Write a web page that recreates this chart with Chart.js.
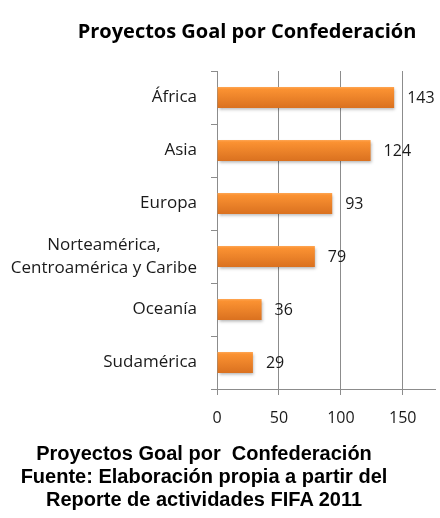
<!DOCTYPE html>
<html>
<head>
<meta charset="utf-8">
<script src="https://cdn.jsdelivr.net/npm/chart.js@4"></script>
<style>
    body { margin: 0; background: #fff; }
    #wrap { position: relative; width: 440px; height: 518px; }
    #chart { position: absolute; left: 0; top: 0; }
    .title {
        position: absolute; left: 0; top: 18px; width: 494px; text-align: center;
        font: bold 20px "Open Sans", sans-serif; line-height: 26px; color: #000;
    }
    .caption {
        position: absolute; left: 0; top: 442px; width: 408px; text-align: center;
        font: bold 20px "Liberation Sans", Arial, sans-serif; line-height: 23px; color: #000;
    }
</style>
</head>
<body>
<div id="wrap">
    <canvas id="chart" width="440" height="518"></canvas>
    <div class="title">Proyectos Goal por Confederación</div>
    <div class="caption">Proyectos Goal por&nbsp; Confederación<br>Fuente: Elaboración propia a partir del<br>Reporte de actividades FIFA 2011</div>
</div>
<script>
// Data
const confederations = ["África", "Asia", "Europa", ["Norteamérica,", "Centroamérica y Caribe"], "Oceanía", "Sudamérica"];
const projects = [143, 124, 93, 79, 36, 29];
const xTicks = [0, 50, 100, 150];

const labelFont = "17px 'Open Sans', sans-serif";

// Category labels: single line right aligned, wrapped label centered
const categoryLabels = {
    id: "categoryLabels",
    afterDraw(chart) {
        const c = chart.ctx;
        const y = chart.scales.y;
        const right = chart.chartArea.left - 20;
        c.save();
        c.font = labelFont;
        c.fillStyle = "#1a1a1a";
        c.textBaseline = "middle";
        confederations.forEach((lab, i) => {
            const py = y.getPixelForValue(i);
            if (Array.isArray(lab)) {
                const w = Math.max(...lab.map(l => c.measureText(l).width));
                c.textAlign = "center";
                lab.forEach((l, j) => c.fillText(l, right - w / 2, py + (j - (lab.length - 1) / 2) * 23));
            } else {
                c.textAlign = "right";
                c.fillText(lab, right, py);
            }
        });
        c.restore();
    }
};

// Value labels at the end of each bar
const valueLabels = {
    id: "valueLabels",
    afterDatasetsDraw(chart) {
        const c = chart.ctx;
        c.save();
        c.font = "16px 'Open Sans', sans-serif";
        c.fillStyle = "#1a1a1a";
        c.textAlign = "left";
        c.textBaseline = "middle";
        chart.getDatasetMeta(0).data.forEach((bar, i) => {
            c.fillText(projects[i], bar.x + 13, bar.y + 1);
        });
        c.restore();
    }
};

// Soft drop shadow under the bars
const barShadow = {
    id: "barShadow",
    beforeDatasetsDraw(chart) {
        const c = chart.ctx;
        c.save();
        c.shadowColor = "rgba(0,0,0,0.3)";
        c.shadowOffsetX = 1;
        c.shadowOffsetY = 2;
        c.shadowBlur = 3;
    },
    afterDatasetsDraw(chart) {
        chart.ctx.restore();
    }
};

new Chart(document.getElementById("chart"), {
    type: "bar",
    data: {
        labels: confederations,
        datasets: [{
            data: projects,
            backgroundColor: function (context) {
                const chart = context.chart;
                const yScale = chart.scales.y;
                if (!chart.chartArea || !yScale) return "#f0892c";
                const py = yScale.getPixelForValue(context.dataIndex);
                const g = chart.ctx.createLinearGradient(0, py - 11, 0, py + 11);
                g.addColorStop(0, "#ffab5c");
                g.addColorStop(0.12, "#fb9232");
                g.addColorStop(1, "#d9701f");
                return g;
            },
            borderWidth: 0,
            barPercentage: 0.4,
            categoryPercentage: 1
        }]
    },
    plugins: [barShadow, valueLabels, categoryLabels],
    options: {
        responsive: false,
        animation: false,
        indexAxis: "y",
        layout: { padding: { top: 71, right: 5, bottom: 89, left: 0 } },
        plugins: {
            legend: { display: false },
            tooltip: { enabled: false }
        },
        scales: {
            x: {
                min: 0,
                max: 176,
                afterBuildTicks(scale) {
                    scale.ticks = xTicks.map(v => ({ value: v }));
                },
                afterFit(scale) { scale.height = 40; },
                ticks: {
                    font: { family: "Open Sans", size: 16 },
                    color: "#1a1a1a",
                    padding: 14
                },
                grid: {
                    color: "#8c8c8c",
                    lineWidth: 1,
                    tickLength: 6
                },
                border: { color: "#8c8c8c" }
            },
            y: {
                afterFit(scale) { scale.width = 217; },
                ticks: { display: false },
                grid: {
                    offset: true,
                    drawOnChartArea: false,
                    color: "#8c8c8c",
                    tickLength: 6
                },
                border: { color: "#8c8c8c" }
            }
        }
    }
});
</script>
</body>
</html>
